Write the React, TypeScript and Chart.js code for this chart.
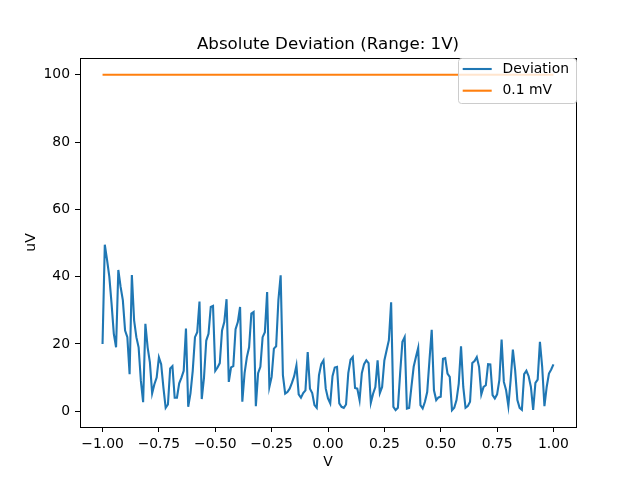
import React, { useEffect, useRef } from 'react';
import { Chart, registerables } from 'chart.js';

Chart.register(...registerables);

// x grid: -1.00 .. 1.00 in 0.01 steps
const X_START = -1;
const X_STEP = 0.01;

// measured absolute deviation (uV)
const deviation: number[] = [
  20, 49.5, 45, 40, 32, 23, 19, 42, 37, 33,
  24, 22, 11, 40.5, 27, 22, 19, 9, 2.7, 26,
  19, 14.5, 5.3, 8, 10, 16, 14, 7, 1, 2,
  12.7, 13.4, 4, 4, 8.3, 10, 12, 24.6, 1.3, 5.3,
  12, 22, 23.5, 32.6, 3.6, 10, 21, 23, 31, 31.3,
  12, 13, 14.3, 24, 26.5, 33.3, 8.7, 13, 13.4, 24.4,
  26.5, 31, 2.8, 11.3, 16, 19, 29, 29.5, 1.5, 11.3,
  13.2, 22, 23.5, 35.4, 7.2, 10.2, 18.6, 19.3, 33, 40.4,
  10.7, 5.2, 5.7, 6.7, 8.4, 10.4, 13.6, 5, 4, 5.4,
  6.2, 17.6, 6.7, 5.4, 1.8, 1, 10.7, 14, 15.1, 6.7,
  3.8, 2.3, 10.4, 13, 13.2, 2.3, 1.3, 1, 2, 11.3,
  15.3, 16.1, 6.9, 6.7, 3.3, 11.3, 14, 15.1, 14.3, 2.5,
  5.2, 7.2, 15.1, 5.4, 7.2, 15.1, 18.1, 21.1, 32.4, 1.3,
  0.3, 1, 11.3, 20.6, 22, 0.8, 1, 7.2, 13.2, 16.1,
  18.8, 1.8, 0.8, 2.8, 5.7, 15.1, 24.2, 6.2, 3.3, 4.1,
  4.3, 15.6, 15.8, 11.2, 10.2, 0.3, 1, 3.3, 8.2, 19.3,
  7.2, 1, 1.5, 2.8, 14.3, 14.9, 16.1, 13.2, 5, 7.2,
  7.7, 14, 13.9, 4.8, 3.8, 5, 9.2, 21.3, 8.7, 6.2,
  1.5, 9.2, 18.3, 12.2, 3.3, 1, 0.4, 11, 12, 10.4,
  7.2, 0.4, 8.4, 9.4, 20.6, 13.2, 1.5, 7.2, 11.2, 12.4,
  13.9,
];

// 0.1 mV reference line
const limitX: number[] = [-1, 1];
const limitY: number[] = [100, 100];

const xTicks: number[] = [-1, -0.75, -0.5, -0.25, 0, 0.25, 0.5, 0.75, 1];
const yTicks: number[] = [0, 20, 40, 60, 80, 100];

const FONT = 'DejaVu Sans';
const BLUE = '#1f77b4';
const ORANGE = '#ff7f0e';

const fmtX = (v: number) => (v < 0 ? '\u2212' : '') + Math.abs(v).toFixed(2);

const decorPlugin = {
  id: 'decor',
  afterDatasetsDraw(chart: any) {
    const { ctx, chartArea } = chart;
    const { left, right, top, bottom } = chartArea;
    ctx.save();
    // spines
    ctx.strokeStyle = '#000';
    ctx.lineWidth = 1;
    ctx.strokeRect(Math.round(left) + 0.5, Math.round(top) + 0.5, Math.round(right - left), Math.round(bottom - top));

    ctx.fillStyle = '#000';
    // title
    ctx.font = `16.7px ${FONT}`;
    ctx.textAlign = 'center';
    ctx.textBaseline = 'alphabetic';
    ctx.fillText('Absolute Deviation (Range: 1V)', (left + right) / 2, 48.5);

    // axis labels
    ctx.font = `13.9px ${FONT}`;
    ctx.textBaseline = 'middle';
    ctx.fillText('V', (left + right) / 2, 462);
    ctx.save();
    ctx.translate(31, (top + bottom) / 2);
    ctx.rotate(-Math.PI / 2);
    ctx.fillText('uV', 0, 0);
    ctx.restore();

    // legend
    const lx = 458.5, ly = 58.5, lw = 118, lh = 45, r = 3;
    ctx.beginPath();
    ctx.roundRect(lx, ly, lw, lh, r);
    ctx.fillStyle = 'rgba(255,255,255,0.8)';
    ctx.fill();
    ctx.strokeStyle = '#cccccc';
    ctx.stroke();

    const items = [
      { label: 'Deviation', color: BLUE, y: 69 },
      { label: '0.1 mV', color: ORANGE, y: 90.7 },
    ];
    ctx.lineWidth = 2.1;
    ctx.textAlign = 'left';
    items.forEach((it) => {
      ctx.strokeStyle = it.color;
      ctx.beginPath();
      ctx.moveTo(462.7, it.y);
      ctx.lineTo(491.7, it.y);
      ctx.stroke();
      ctx.fillStyle = '#000';
      ctx.fillText(it.label, 502.5, it.y);
    });
    ctx.restore();
  },
};

const App: React.FC = () => {
  const chartRef = useRef<HTMLCanvasElement>(null);
  const chartInstance = useRef<Chart | null>(null);

  useEffect(() => {
    document.body.style.margin = '0';
    if (!chartRef.current) return;
    const ctx = chartRef.current.getContext('2d');
    if (!ctx) return;

    if (chartInstance.current) {
      chartInstance.current.destroy();
    }

    const devPoints = deviation.map((y, i) => ({ x: X_START + i * X_STEP, y }));
    const limPoints = limitX.map((x, i) => ({ x, y: limitY[i] }));

    chartInstance.current = new Chart(ctx, {
      type: 'line',
      data: {
        datasets: [
          {
            label: 'Deviation',
            data: devPoints,
            borderColor: BLUE,
            borderWidth: 2.1,
            pointRadius: 0,
            tension: 0,
            order: 1,
          },
          {
            label: '0.1 mV',
            data: limPoints,
            borderColor: ORANGE,
            borderWidth: 2.1,
            pointRadius: 0,
            tension: 0,
            order: 0,
          },
        ],
      },
      options: {
        responsive: false,
        animation: false,
        devicePixelRatio: 1,
        layout: { padding: { left: 0, right: 64, top: 58, bottom: 0 } },
        plugins: {
          legend: { display: false },
          title: { display: false },
          tooltip: { enabled: false },
        },
        scales: {
          x: {
            type: 'linear',
            min: -1.1,
            max: 1.1,
            afterFit: (scale: any) => {
              scale.height = 53;
            },
            afterBuildTicks: (scale: any) => {
              scale.ticks = xTicks.map((value) => ({ value }));
            },
            border: { display: false },
            grid: {
              drawOnChartArea: false,
              drawTicks: true,
              tickLength: 5,
              tickColor: '#000',
              lineWidth: 1,
            },
            ticks: {
              autoSkip: false,
              maxRotation: 0,
              padding: 4,
              color: '#000',
              font: { family: FONT, size: 13.9 },
              callback: (v: any) => fmtX(Number(v)),
            },
          },
          y: {
            type: 'linear',
            min: -4.7,
            max: 105,
            afterFit: (scale: any) => {
              scale.width = 80;
            },
            afterBuildTicks: (scale: any) => {
              scale.ticks = yTicks.map((value) => ({ value }));
            },
            border: { display: false },
            grid: {
              drawOnChartArea: false,
              drawTicks: true,
              tickLength: 5,
              tickColor: '#000',
              lineWidth: 1,
            },
            ticks: {
              padding: 5,
              color: '#000',
              font: { family: FONT, size: 13.9 },
              callback: (v: any) => String(v),
            },
          },
        },
      },
      plugins: [decorPlugin],
    });

    return () => {
      if (chartInstance.current) {
        chartInstance.current.destroy();
        chartInstance.current = null;
      }
    };
  }, []);

  return (
    <div style={{ width: 640, height: 480, background: '#fff' }}>
      <canvas ref={chartRef} width={640} height={480} />
    </div>
  );
};

export default App;
